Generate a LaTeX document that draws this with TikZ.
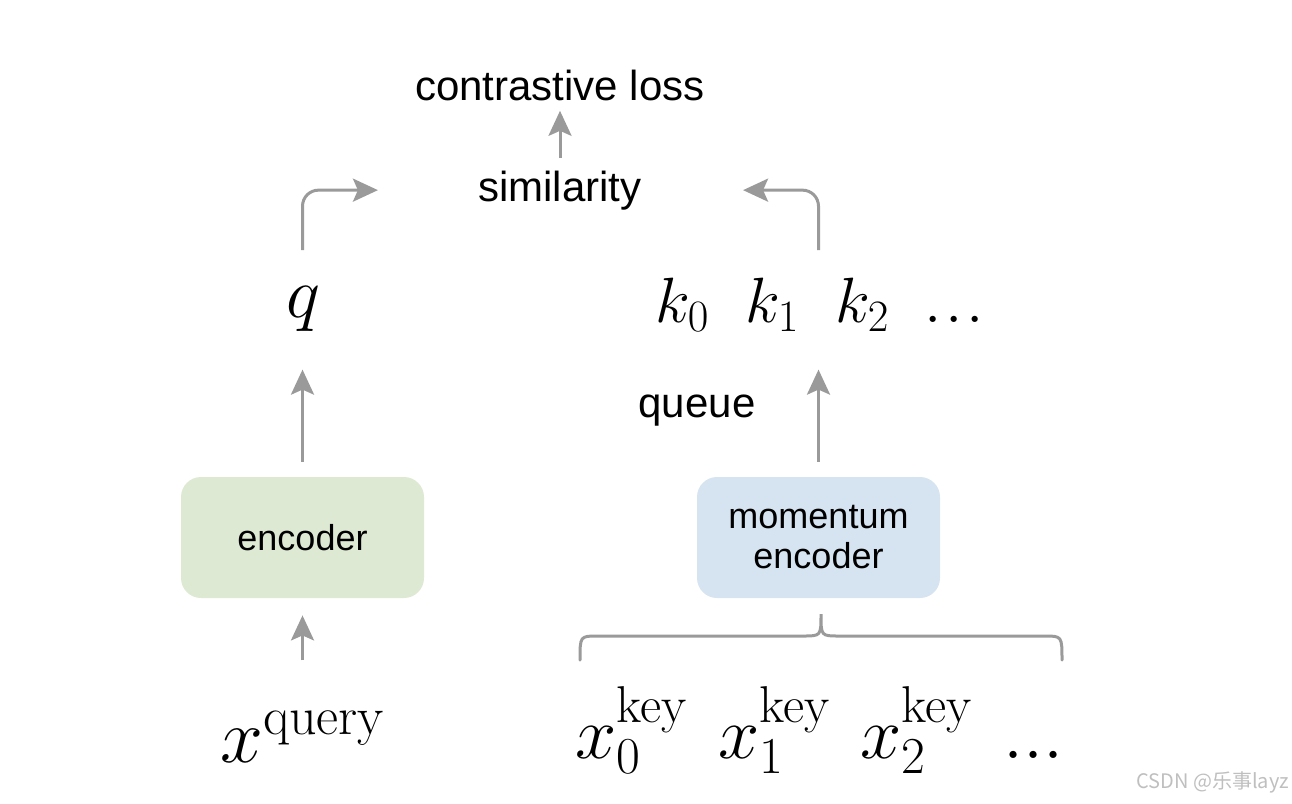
\RequirePackage{fix-cm}
\documentclass[tikz,border=0pt]{standalone}
\usepackage{amsmath}
\usepackage[no-math]{fontspec}
\usepackage{tikz}
\usetikzlibrary{arrows.meta,calc}
\newfontfamily\arialfont{Liberation Sans}
\newfontfamily\cjkfont{Noto Sans CJK SC}
\definecolor{arrgray}{HTML}{9A9A9A}
\definecolor{encgreen}{HTML}{DEE9D3}
\definecolor{momblue}{HTML}{D5E4F0}

\begin{document}
\begin{tikzpicture}[x=0.5pt,y=-0.5pt,
   lbl/.style={font=\arialfont\fontsize{21}{25}\selectfont, inner sep=0, anchor=base},
   encbox/.style={rounded corners=10pt, minimum width=121.5pt, minimum height=60.5pt,
      align=center, inner sep=0, font=\arialfont\fontsize{18}{21}\selectfont},
   mathbig/.style={font=\fontsize{37}{40}\selectfont, inner sep=0, anchor=base west},
   mathmid/.style={font=\fontsize{32}{36}\selectfont, inner sep=0, anchor=base west},
   arr/.style={draw=arrgray, line width=1.5pt, -{Stealth[length=12.5pt,width=11.5pt,inset=2.5pt]}}]
   \useasboundingbox (0,0) rectangle (1292,804);
   % Loss
   \node[lbl] (loss) at (560,100) {contrastive loss};
   \node[lbl] (sim) at (560,201) {similarity};
   \draw[arr] ([yshift=6pt]sim.north) -- ([yshift=-5pt]loss.south);
   % Query side
   \node[font=\fontsize{36}{40}\selectfont, inner sep=0, anchor=base] (q) at (303,317) {$q$};
   \node[encbox, fill=encgreen] (enc) at (302.5,537.5) {encoder};
   \node[mathbig, font=\fontsize{38.5}{42}\selectfont] (xq) at (220,762) {$x^{\mathrm{query}}$};
   \coordinate (qtop) at (302.5,250);
   \draw[arr] ([yshift=7.5pt]enc.north) -- +(0,-92);
   \draw[arr] ($(enc.south)+(0,62)$) -- ([yshift=-8.5pt]enc.south);
   \draw[arr, rounded corners=8pt] (qtop) |- ([xshift=-50pt]sim.west);
   % Key side
   \node[mathmid] (k0) at (655,322) {$k_0$};
   \node[mathmid] (k1) at (745,322) {$k_1$};
   \node[mathmid] (k2) at (835,322) {$k_2$};
   \node[mathmid] (kdots) at (924,322) {$.\mkern1mu.\mkern1mu.$};
   \node[lbl] (queue) at (697,417) {queue};
   \node[encbox, fill=momblue] (menc) at (818.5,537.5) {momentum\\[-1pt]encoder};
   \coordinate (ktop) at (818.5,250);
   \draw[arr] ([yshift=7.5pt]menc.north) -- +(0,-92);
   \draw[arr, rounded corners=8pt] (ktop) |- ([xshift=50.5pt]sim.east);
   \node[mathbig] (x0) at (575,758) {$x_0^{\mathrm{key}}$};
   \node[mathbig] (x1) at (718,758) {$x_1^{\mathrm{key}}$};
   \node[mathbig] (x2) at (860,758) {$x_2^{\mathrm{key}}$};
   \node[mathbig] (xdots) at (1003,758) {$...$};
   % Brace
   \draw[arrgray, line width=1.5pt, line cap=round]
      (580,660) .. controls (580,636) .. (598,636) -- (803,636)
      .. controls (821,636) .. (821,614)
      .. controls (821,636) .. (839,636) -- (1044,636)
      .. controls (1062,636) .. (1062,660);
   % Watermark
   \node[font=\cjkfont\fontsize{10}{12}\selectfont, text=black!25, inner sep=0, anchor=east] (wm) at (1289,782) {CSDN @乐事layz};
\end{tikzpicture}
\end{document}
